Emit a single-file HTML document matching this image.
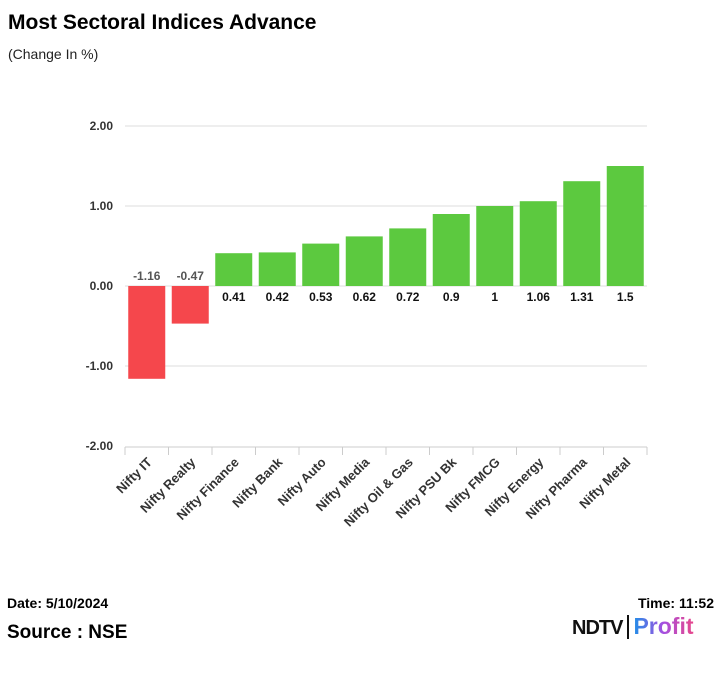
<!DOCTYPE html>
<html><head><meta charset="utf-8"><style>
body{margin:0;background:#fff;font-family:"Liberation Sans",Arial,sans-serif;}
#wrap{position:relative;width:720px;height:675px;overflow:hidden;}
.t{position:absolute;white-space:nowrap;}
</style></head><body>
<div id="wrap">
<div class="t" style="left:8px;top:11px;font-size:21px;font-weight:bold;color:#000;">Most Sectoral Indices Advance</div>
<div class="t" style="left:8px;top:46px;font-size:14px;color:#222;">(Change In %)</div>
<svg id="chart" width="720" height="560" style="position:absolute;left:0;top:0"></svg>
<div class="t" style="left:7px;top:595px;font-size:14px;font-weight:bold;color:#000;">Date: 5/10/2024</div>
<div class="t" style="right:6px;top:595px;font-size:14px;font-weight:bold;color:#000;">Time: 11:52</div>
<div class="t" style="left:7px;top:622px;font-size:19px;font-weight:bold;color:#000;">Source : NSE</div>
<div class="t" style="left:572px;top:613px;font-size:20px;font-weight:bold;letter-spacing:-1px;">
<span style="color:#111;font-size:20px;">NDTV</span><span style="display:inline-block;width:2px;height:24px;background:#111;margin:0 4px 0 5px;vertical-align:-5px;"></span><span style="font-weight:bold;background:linear-gradient(90deg,#1e8fe8,#a64fe0,#e8468a);-webkit-background-clip:text;background-clip:text;color:transparent;font-size:23px;letter-spacing:0">Profit</span></div>
</div>
<script>
const categories=["Nifty IT","Nifty Realty","Nifty Finance","Nifty Bank","Nifty Auto","Nifty Media","Nifty Oil & Gas","Nifty PSU Bk","Nifty FMCG","Nifty Energy","Nifty Pharma","Nifty Metal"];
const values=[-1.16,-0.47,0.41,0.42,0.53,0.62,0.72,0.9,1,1.06,1.31,1.5];
const valueLabels=["-1.16","-0.47","0.41","0.42","0.53","0.62","0.72","0.9","1","1.06","1.31","1.5"];
const yTicks=[2,1,0,-1,-2];
const yTickLabels=["2.00","1.00","0.00","-1.00","-2.00"];
const NS="http://www.w3.org/2000/svg";
const svg=document.getElementById('chart');
const x0=125,x1=647,y0=286,pxPerUnit=80;
const band=(x1-x0)/categories.length,bw=37;
const y=v=>y0-v*pxPerUnit;
const xc=i=>x0+band*(i+0.5);
function mk(tag,a){const e=document.createElementNS(NS,tag);for(const k in a)e.setAttribute(k,a[k]);svg.appendChild(e);return e;}
yTicks.forEach((t,i)=>{
 if(t!==-2){const g=mk('line',{x1:x0,x2:x1,y1:y(t),y2:y(t),stroke:'#ddd','stroke-width':1});
 
 }
 const tx=mk('text',{x:113,y:y(t)+4,'text-anchor':'end','font-size':12,'font-weight':'bold',fill:'#333'});
 tx.textContent=yTickLabels[i];
 
 
});
const ax=mk('line',{x1:x0,x2:x1,y1:447,y2:447,stroke:'#ccc','stroke-width':1});


for(let i=0;i<=categories.length;i++){const tk=mk('line',{x1:x0+band*i,x2:x0+band*i,y1:447,y2:455,stroke:'#ccc'});
 
 }
values.forEach((v,i)=>{
 const top=Math.min(y(v),y0),h=Math.abs(y(v)-y0);
 const r=mk('rect',{x:xc(i)-bw/2,y:top,width:bw,height:h,fill:v<0?'#f5474c':'#5cc93f'});
 
 
 const lt=mk('text',{x:xc(i),y:v<0?y0-6:y0+15,'text-anchor':'middle','font-size':12,'font-weight':'bold',fill:v<0?'#555':'#111'});
 lt.textContent=valueLabels[i];
 
 
 const c=mk('text',{x:xc(i)+6,y:463,'text-anchor':'end','font-size':13,'font-weight':'bold',fill:'#333',transform:`rotate(-45 ${xc(i)+6} 463)`});
 c.textContent=categories[i];
 
 
});
</script>
</body></html>
